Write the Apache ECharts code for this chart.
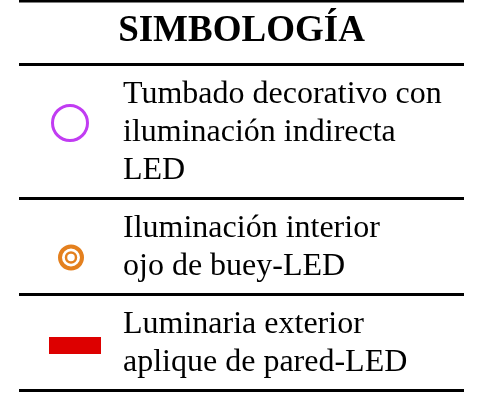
<!DOCTYPE html>
<html><head><meta charset="utf-8">
<script src="https://cdn.jsdelivr.net/npm/echarts@6/dist/echarts.min.js"></script>
<style>html,body{margin:0;padding:0;background:#fff}#c{width:477px;height:395px}</style>
</head><body><div id="c"></div>
<script>
// ---- content ----
const titleText = 'SIMBOLOGÍA';
const rowLines = [
  ['Tumbado decorativo con', 'iluminación indirecta', 'LED'],
  ['Iluminación interior', 'ojo de buey-LED'],
  ['Luminaria exterior', 'aplique de pared-LED']
];
const rowSymbols = ['ring', 'target', 'bar'];
const rowColors = ['#C13CF2', '#E4801E', '#DD0000'];

// ---- layout / style ----
const FONT = '"Liberation Serif", "Times New Roman", serif';
const W = 477, H = 395;
const RULE_X0 = 19, RULE_X1 = 464, RULE_W = 3;
const TOP_RULE = 1, HEADER_RULE = 64.5;
const LINE_H = 38, FIRST_BASE = 41, BOTTOM_PAD = 17;
const TEXT_X = 123, TEXT_SIZE = 32, MID_SHIFT = 11;
const symbolStyle = {
  ring:   { cx: 70, dy: 58.5 },
  target: { cx: 71, dy: 59 },
  bar:    { cx: 75, dy: 51 }
};

// compute row tops from line counts
const rowTops = [];
let acc = HEADER_RULE;
rowLines.forEach(lines => {
  rowTops.push(acc);
  acc += FIRST_BASE + (lines.length - 1) * LINE_H + BOTTOM_PAD;
});
const rowData = rowLines.map((lines, i) => [i, rowTops[i], lines.length]);

const chart = echarts.init(document.getElementById('c'), null, { renderer: 'canvas' });

function renderRow(params, api) {
  const i = api.value(0);
  const top = api.value(1);
  const n = api.value(2);
  const bottom = top + FIRST_BASE + (n - 1) * LINE_H + BOTTOM_PAD;
  const children = [];
  rowLines[i].forEach((t, k) => {
    const p = api.coord([TEXT_X, top + FIRST_BASE + k * LINE_H - MID_SHIFT]);
    children.push({
      type: 'text',
      style: { x: p[0], y: p[1], text: t, fill: '#000', font: TEXT_SIZE + 'px ' + FONT,
               align: 'left', verticalAlign: 'middle' }
    });
  });
  const a = api.coord([RULE_X0, bottom]);
  const b = api.coord([RULE_X1, bottom]);
  children.push({ type: 'line', shape: { x1: a[0], y1: a[1], x2: b[0], y2: b[1] },
                  style: { stroke: '#000', lineWidth: RULE_W } });
  const kind = rowSymbols[i];
  const st = symbolStyle[kind];
  const c = api.coord([st.cx, top + st.dy]);
  const col = rowColors[i];
  if (kind === 'ring') {
    children.push({ type: 'circle', shape: { cx: c[0], cy: c[1], r: 17.5 },
                    style: { fill: 'none', stroke: col, lineWidth: 3 } });
  } else if (kind === 'target') {
    children.push({ type: 'circle', shape: { cx: c[0], cy: c[1], r: 11 },
                    style: { fill: 'none', stroke: col, lineWidth: 4 } });
    children.push({ type: 'circle', shape: { cx: c[0], cy: c[1], r: 5 },
                    style: { fill: 'none', stroke: col, lineWidth: 2.5 } });
  } else {
    children.push({ type: 'rect', shape: { x: c[0] - 26, y: c[1] - 8.5, width: 52, height: 17 },
                    style: { fill: col } });
  }
  return { type: 'group', children };
}

chart.setOption({
  animation: false,
  backgroundColor: '#fff',
  grid: { left: 0, right: 0, top: 0, bottom: 0 },
  xAxis: { type: 'value', min: 0, max: W, show: false },
  yAxis: { type: 'value', min: 0, max: H, inverse: true, show: false },
  graphic: [
    { type: 'line', shape: { x1: RULE_X0, y1: TOP_RULE, x2: RULE_X1, y2: TOP_RULE },
      style: { stroke: '#000', lineWidth: RULE_W } },
    { type: 'line', shape: { x1: RULE_X0, y1: HEADER_RULE, x2: RULE_X1, y2: HEADER_RULE },
      style: { stroke: '#000', lineWidth: RULE_W } },
    { type: 'text', x: 241.5, y: 31,
      style: { text: titleText, fill: '#000', font: 'bold 37px ' + FONT,
               align: 'center', verticalAlign: 'middle' } }
  ],
  series: [{
    type: 'custom',
    coordinateSystem: 'cartesian2d',
    renderItem: renderRow,
    data: rowData,
    silent: true
  }]
});
</script>
</body></html>
